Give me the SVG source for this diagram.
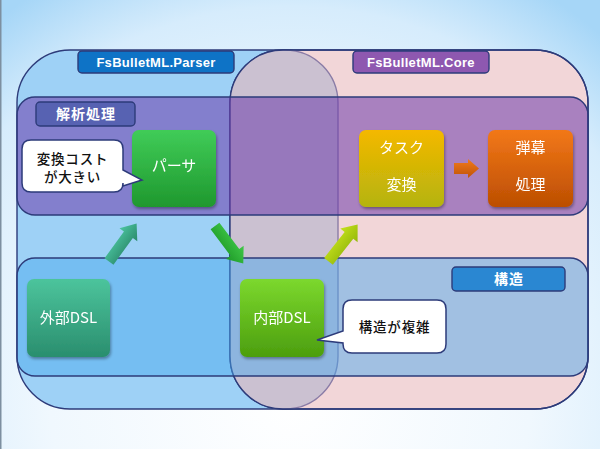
<svg xmlns="http://www.w3.org/2000/svg" width="600" height="449" viewBox="0 0 600 449">
<defs>
<radialGradient id="bg" gradientUnits="userSpaceOnUse" cx="290" cy="400" r="480">
<stop offset="0" stop-color="#ffffff"/>
<stop offset="0.5" stop-color="#f0f8fe"/>
<stop offset="0.82" stop-color="#d6ecfc"/>
<stop offset="1" stop-color="#a6d6f7"/>
</radialGradient>
<linearGradient id="gGreen" x1="0" y1="0" x2="0" y2="1"><stop offset="0" stop-color="#40cc58"/><stop offset="1" stop-color="#1f982e"/></linearGradient>
<linearGradient id="gYellow" x1="0" y1="0" x2="0" y2="1"><stop offset="0" stop-color="#f4b800"/><stop offset="1" stop-color="#b4b40c"/></linearGradient>
<linearGradient id="gOrange" x1="0" y1="0" x2="0" y2="1"><stop offset="0" stop-color="#f27818"/><stop offset="1" stop-color="#bc4e02"/></linearGradient>
<linearGradient id="gTeal" x1="0" y1="0" x2="0" y2="1"><stop offset="0" stop-color="#4cc49c"/><stop offset="1" stop-color="#2a8e6e"/></linearGradient>
<linearGradient id="gLime" x1="0" y1="0" x2="0" y2="1"><stop offset="0" stop-color="#7cd82e"/><stop offset="1" stop-color="#4c9e0e"/></linearGradient>
<linearGradient id="aTeal" x1="0" y1="0" x2="0" y2="1"><stop offset="0" stop-color="#4cc4a0"/><stop offset="1" stop-color="#2a8a6a"/></linearGradient>
<linearGradient id="aGreen" x1="0" y1="0" x2="0" y2="1"><stop offset="0" stop-color="#40c848"/><stop offset="1" stop-color="#1e9a28"/></linearGradient>
<linearGradient id="aLime" x1="0" y1="0" x2="0" y2="1"><stop offset="0" stop-color="#c4e01c"/><stop offset="1" stop-color="#94b80a"/></linearGradient>
<linearGradient id="aOrange" x1="0" y1="0" x2="0" y2="1"><stop offset="0" stop-color="#f07a1c"/><stop offset="1" stop-color="#c05408"/></linearGradient>
<clipPath id="coreClip"><rect x="230" y="50" width="358" height="359" rx="53"/></clipPath>
<filter id="sh" x="-20%" y="-20%" width="140%" height="150%"><feDropShadow dx="1" dy="2" stdDeviation="1.5" flood-color="#000" flood-opacity="0.35"/></filter>
<path id="blk" d="M0,-5.5 H33 V-11 L47,0 L33,11 V5.5 H0 Z"/>
<style>
.lbl{font-family:"Liberation Sans","Noto Sans CJK JP",sans-serif;font-weight:bold;font-size:13px;fill:#fff;text-anchor:middle;letter-spacing:0.3px}
.jlbl{font-family:"Noto Sans CJK JP",sans-serif;font-weight:bold;font-size:14px;fill:#fff;text-anchor:middle;letter-spacing:1px}
.nt{font-family:"Noto Sans CJK JP",sans-serif;font-size:15px;fill:#fff;text-anchor:middle}
.ct{font-family:"Noto Sans CJK JP",sans-serif;font-size:13.5px;fill:#111;text-anchor:middle;letter-spacing:0.8px;font-weight:500}
.edge{stroke:#2d3b7a;stroke-width:1.4}
.node{filter:url(#sh)}
.callout{fill:#fff;stroke:#2d3b7a;stroke-width:1.5}
</style>
</defs>
<rect width="600" height="449" fill="url(#bg)"/>
<rect x="0" y="0" width="1.5" height="449" fill="#7d8fa0"/>

<g id="areas">
<rect id="parserArea" x="17" y="50" width="321" height="359" rx="53" fill="#9ed1f6" class="edge"/>
<rect id="coreArea" x="230" y="50" width="358" height="359" rx="53" fill="#f2d6d8" class="edge"/>
<rect x="17" y="50" width="321" height="359" rx="53" fill="#cbc1d1" stroke="#8a7ca6" stroke-width="1.4" clip-path="url(#coreClip)"/>
<rect x="230" y="50" width="358" height="359" rx="53" fill="none" class="edge"/>
<rect id="bandAnalysis" x="17" y="97" width="571" height="118" rx="18" fill="rgb(109,61,171)" fill-opacity="0.55" class="edge"/>
<rect id="bandStructure" x="17" y="258" width="571" height="118" rx="18" fill="rgb(72,168,238)" fill-opacity="0.475" class="edge"/>
</g>

<g id="label-parser"><rect x="78" y="51" width="156" height="22" rx="4" fill="#0e73c6" class="edge"/><text class="lbl" x="156" y="66.5">FsBulletML.Parser</text></g>
<g id="label-core"><rect x="353" y="51" width="136" height="22" rx="4" fill="#8e58b0" class="edge"/><text class="lbl" x="421" y="66.5">FsBulletML.Core</text></g>
<g id="label-analysis"><rect x="36" y="102" width="99" height="24" rx="4" fill="#5762b2" class="edge"/><text class="jlbl" x="86" y="119">解析処理</text></g>
<g id="label-structure"><rect x="452" y="267" width="113" height="24" rx="4" fill="#2a87d2" class="edge"/><text class="jlbl" x="509" y="284">構造</text></g>

<g id="connectors">
<use href="#blk" fill="url(#aTeal)" transform="translate(109,261.5) rotate(-54)"/>
<use href="#blk" fill="url(#aGreen)" transform="translate(215,226) rotate(53)"/>
<use href="#blk" fill="url(#aLime)" transform="translate(328.5,261.3) rotate(-51.7)"/>
<path d="M454,163 H468 V159 L479,168.5 L468,178 V174 H454 Z" fill="url(#aOrange)"/>
</g>

<g id="node-parser" class="node"><rect x="132" y="130" width="84" height="77" rx="7" fill="url(#gGreen)"/><text class="nt" x="174" y="171">パーサ</text></g>
<g id="node-task" class="node"><rect x="359" y="130" width="85" height="77" rx="7" fill="url(#gYellow)"/><text class="nt" x="401.5" y="153">タスク</text><text class="nt" x="401.5" y="190">変換</text></g>
<g id="node-danmaku" class="node"><rect x="488" y="130" width="85" height="77" rx="7" fill="url(#gOrange)"/><text class="nt" x="530.5" y="153">弾幕</text><text class="nt" x="530.5" y="190">処理</text></g>
<g id="node-external" class="node"><rect x="27" y="279" width="83" height="78" rx="7" fill="url(#gTeal)"/><text class="nt" x="68.5" y="322.5">外部DSL</text></g>
<g id="node-internal" class="node"><rect x="240" y="279" width="84" height="78" rx="7" fill="url(#gLime)"/><text class="nt" x="282" y="322.5">内部DSL</text></g>

<g id="callout-cost"><path class="callout" d="M31,140 H114 Q123,140 123,149 V170 L142,180 L123,186 V183 Q123,192 114,192 H31 Q22,192 22,183 V149 Q22,140 31,140 Z"/><text class="ct" x="72.5" y="163.5">変換コスト</text><text class="ct" x="72.5" y="182">が大きい</text></g>
<g id="callout-complex"><path class="callout" d="M352,300 H437 Q446,300 446,309 V344 Q446,353 437,353 H352 Q343,353 343,344 V343 L317,340 L343,331 V309 Q343,300 352,300 Z"/><text class="ct" x="394.5" y="332">構造が複雑</text></g>
</svg>
